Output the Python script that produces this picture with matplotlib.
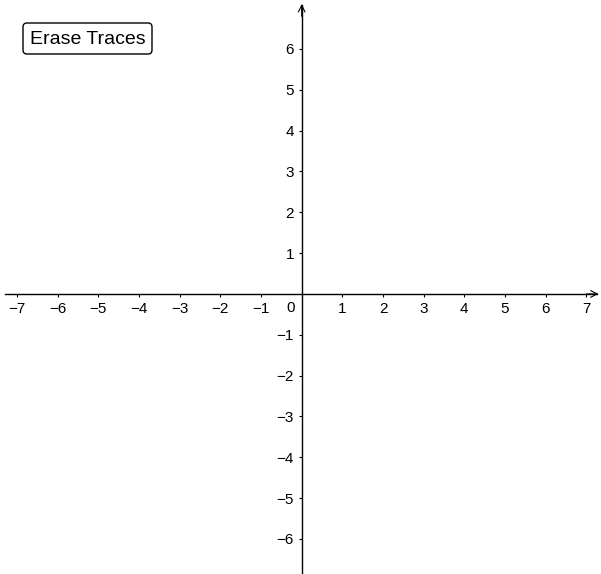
import matplotlib.pyplot as plt
from matplotlib.patches import FancyBboxPatch

# Tick values and labels
x_ticks = [-7, -6, -5, -4, -3, -2, -1, 1, 2, 3, 4, 5, 6, 7]
y_ticks = [-6, -5, -4, -3, -2, -1, 1, 2, 3, 4, 5, 6]
button_text = "Erase Traces"

plt.rcParams['font.family'] = ['Liberation Sans', 'DejaVu Sans']

fig = plt.figure(figsize=(6.01, 5.74), dpi=100)
ax = fig.add_axes([0, 0, 1, 1])
ax.set_xlim(-7.42, 7.36)
ax.set_ylim(-6.86, 7.2)

# Axes through the origin
for side in ['top', 'right']:
    ax.spines[side].set_visible(False)
ax.spines['left'].set_position(('data', 0))
ax.spines['bottom'].set_position(('data', 0))
ax.spines['bottom'].set_bounds(-7.30, 7.27)
ax.spines['left'].set_bounds(-6.86, 7.07)
ax.spines['left'].set_linewidth(1.0)
ax.spines['bottom'].set_linewidth(1.0)

# Arrowheads
ax.annotate('', xy=(7.3, 0), xytext=(7.0, 0),
            arrowprops=dict(arrowstyle='->', lw=0.8, color='black',
                            mutation_scale=12, shrinkA=0, shrinkB=0))
ax.annotate('', xy=(0, 7.1), xytext=(0, 6.8),
            arrowprops=dict(arrowstyle='->', lw=0.8, color='black',
                            mutation_scale=12, shrinkA=0, shrinkB=0))

ax.set_xticks(x_ticks)
ax.set_xticklabels([str(v).replace('-', '\u2212') for v in x_ticks])
ax.set_yticks(y_ticks)
ax.set_yticklabels([str(v).replace('-', '\u2212') for v in y_ticks])
ax.tick_params(axis='both', direction='out', length=2, width=0.8,
               labelsize=11, pad=3.5)

# Origin label
ax.annotate('0', xy=(0, 0), xytext=(-8, -10), textcoords='offset points',
            ha='center', va='center', fontsize=11)

# Button (display coords, origin bottom-left)
btn = FancyBboxPatch((23, 574 - 54), 129, 31,
                     boxstyle='round,pad=0,rounding_size=4',
                     transform=None, facecolor='white', edgecolor='black',
                     lw=1.0, zorder=5)
fig.patches.append(btn)
fig.text(88 / 601, 1 - 39 / 574, button_text, ha='center', va='center',
         fontsize=14, zorder=6)

fig.savefig('out.png', dpi=100)
